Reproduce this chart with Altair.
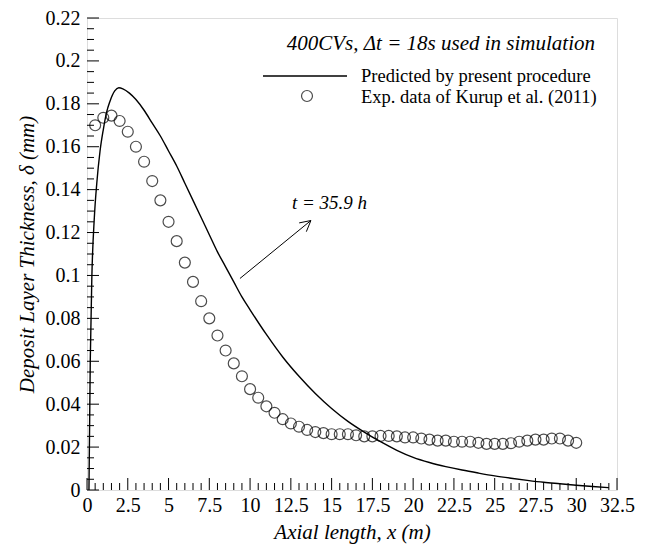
import altair as alt
import pandas as pd

# Experimental data (Kurup et al. 2011)
exp_x = [0.5 + 0.5 * i for i in range(60)]
exp_y = [0.170, 0.1735, 0.1745, 0.172, 0.167, 0.160, 0.153, 0.144, 0.135, 0.125,
         0.116, 0.106, 0.097, 0.088, 0.080, 0.072, 0.065, 0.059, 0.053, 0.047,
         0.043, 0.039, 0.036, 0.033, 0.031, 0.0295, 0.028, 0.027, 0.0265, 0.026,
         0.026, 0.026, 0.0255, 0.025, 0.025, 0.0252, 0.0252, 0.025, 0.0245, 0.0245,
         0.024, 0.0235, 0.023, 0.023, 0.0225, 0.0225, 0.0225, 0.022, 0.0215, 0.0215,
         0.0215, 0.0218, 0.0225, 0.023, 0.0235, 0.0235, 0.024, 0.024, 0.023, 0.022]

# Predicted curve
pred_x = [0.12, 0.2, 0.3, 0.45, 0.6, 0.8, 1.0, 1.2, 1.4, 1.7, 1.95, 2.2, 2.6, 3.0, 3.5,
          4.0, 4.5, 5.0, 5.5, 6.0, 6.5, 7.0, 7.5, 8.0, 8.5, 9.0, 9.5, 10, 11, 12, 13,
          14, 15, 16, 17, 18, 19, 20, 21, 22, 23, 24, 25, 26, 27, 28, 29, 30, 31, 32]
pred_y = [0.0, 0.06, 0.1, 0.127, 0.143, 0.158, 0.168, 0.176, 0.181, 0.186, 0.1875,
          0.187, 0.185, 0.182, 0.177, 0.171, 0.165, 0.158, 0.151, 0.143, 0.135, 0.127,
          0.119, 0.111, 0.104, 0.097, 0.090, 0.084, 0.0725, 0.062, 0.053, 0.045, 0.038,
          0.032, 0.027, 0.0225, 0.0185, 0.0152, 0.0128, 0.0109, 0.0093, 0.0079, 0.0066,
          0.0055, 0.0045, 0.0036, 0.0029, 0.0022, 0.0016, 0.0011]

x_major = [i * 2.5 for i in range(14)]
x_minor = [i * 0.5 for i in range(66) if i % 5 != 0]
y_major = [round(i * 0.02, 3) for i in range(12)]
y_minor = [round(i * 0.005, 4) for i in range(45) if i % 4 != 0]

# annotation arrow (data coords)
arrow_x = [9.38, 13.73, 13.01, 13.73, 13.45]
arrow_y = [0.0986, 0.1256, 0.1245, 0.1256, 0.1204]

W, H = 530, 472
SERIF = "Liberation Serif"

xs = alt.Scale(domain=[0, 32.5], nice=False, zero=False)
ys = alt.Scale(domain=[0, 0.22], nice=False)

exp_df = pd.DataFrame({"x": exp_x, "y": exp_y})
pred_df = pd.DataFrame({"x": pred_x, "y": pred_y})

lab = "format(datum.value, '.3~f')"
xaxis = alt.Axis(values=x_major, labelExpr=lab, ticks=False, domain=False, grid=False,
                 labelFont=SERIF, labelFontSize=20, labelColor="black", labelPadding=5,
                 title="Axial length, x (m)", titleFont=SERIF, titleFontSize=21,
                 titleFontStyle="italic", titleFontWeight="normal", titleColor="black",
                 titlePadding=6, labelFlush=False, labelOverlap=False)
yaxis = alt.Axis(values=y_major, labelExpr=lab, ticks=False, domain=False, grid=False,
                 labelFont=SERIF, labelFontSize=20, labelColor="black", labelPadding=7,
                 title="Deposit Layer Thickness,  δ (mm)", titleFont=SERIF, titleFontSize=21,
                 titleFontStyle="italic", titleFontWeight="normal", titleColor="black",
                 titlePadding=8, labelFlush=False, labelOverlap=False)

line = alt.Chart(pred_df).mark_line(color="black", strokeWidth=1.4, interpolate="monotone").encode(
    x=alt.X("x:Q", scale=xs, axis=xaxis),
    y=alt.Y("y:Q", scale=ys, axis=yaxis),
)
pts = alt.Chart(exp_df).mark_point(shape="circle", filled=False, color="black", size=120,
                                    strokeWidth=1.2).encode(
    x=alt.X("x:Q", scale=xs), y=alt.Y("y:Q", scale=ys))

def xticks(vals, L):
    return alt.Chart(pd.DataFrame({"v": vals})).mark_rule(color="black", strokeWidth=1).encode(
        x=alt.X("v:Q", scale=xs), y=alt.value(H), y2=alt.value(H - L))

def yticks(vals, L):
    return alt.Chart(pd.DataFrame({"v": vals})).mark_rule(color="black", strokeWidth=1).encode(
        y=alt.Y("v:Q", scale=ys), x=alt.value(0), x2=alt.value(L))

arr_df = pd.DataFrame({"x": arrow_x[:-1], "y": arrow_y[:-1],
                       "x2": arrow_x[1:], "y2": arrow_y[1:]})
arr_df = arr_df.iloc[[0, 1, 3]]
arrow = alt.Chart(arr_df).mark_rule(color="black", strokeWidth=1).encode(
    x=alt.X("x:Q", scale=xs), y=alt.Y("y:Q", scale=ys), x2="x2:Q", y2="y2:Q")

def text(t, x, y, size, style="normal", align="left"):
    return alt.Chart(pd.DataFrame({"t": [t]})).mark_text(
        font=SERIF, fontSize=size, fontStyle=style, align=align, baseline="middle",
        color="black").encode(text="t:N", x=alt.value(x), y=alt.value(y))

header = text("400CVs, Δt = 18s used in simulation", 508, 26, 21, "italic", "right")
annot = text("t = 35.9 h", 205, 185, 19, "italic", "left")
leg1 = text("Predicted by present procedure", 274, 58, 18.5)
leg2 = text("Exp. data of Kurup et al. (2011)", 274, 79, 18.5)
leg_line = alt.Chart(pd.DataFrame({"a": [0]})).mark_rule(color="black", strokeWidth=1.4).encode(
    x=alt.value(176), x2=alt.value(260), y=alt.value(58))
leg_pt = alt.Chart(pd.DataFrame({"a": [0]})).mark_point(
    shape="circle", filled=False, color="black", size=120, strokeWidth=1.2).encode(
    x=alt.value(220), y=alt.value(78))

chart = alt.layer(
    line, pts,
    xticks(x_major, 12), xticks(x_minor, 7), yticks(y_major, 12), yticks(y_minor, 7),
    arrow, header, annot, leg1, leg2, leg_line, leg_pt,
).properties(
    width=W, height=H,
    autosize=alt.AutoSizeParams(type="none"),
    padding={"left": 79, "top": 10, "right": 22, "bottom": 54},
).configure_view(stroke="black", strokeWidth=1.2).configure(background="white")

chart.save("out.html", embed_options={"renderer": "svg", "actions": False})
